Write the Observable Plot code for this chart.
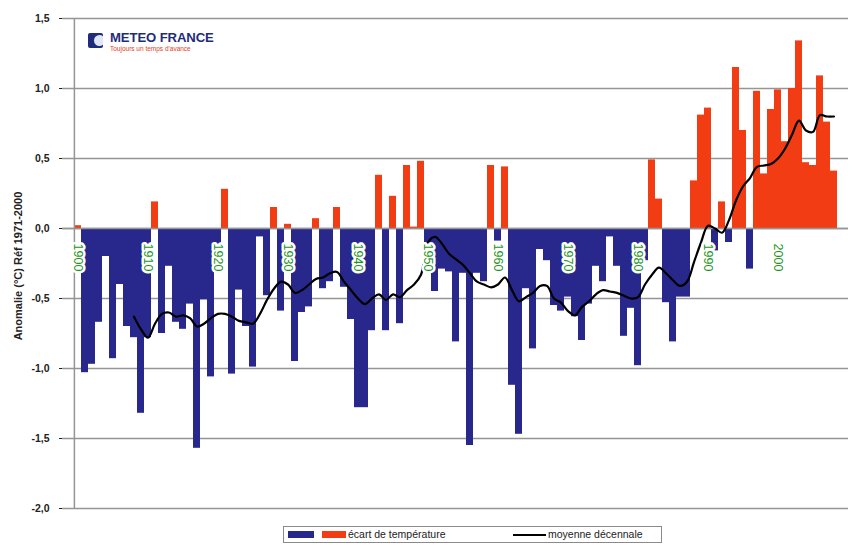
<!DOCTYPE html>
<html><head><meta charset="utf-8">
<script src="https://cdn.jsdelivr.net/npm/d3@7"></script>
<script src="https://cdn.jsdelivr.net/npm/@observablehq/plot@0.6"></script>
<style>
body{margin:0;background:#fff;font-family:"Liberation Sans",Arial,sans-serif}
#wrap{position:relative;width:857px;height:545px;overflow:hidden}
#logo{position:absolute;left:88px;top:32px;display:flex;align-items:flex-start}
#logo .ico{width:15px;height:15px;border-radius:2px;background:#1f2c7c;position:relative;overflow:hidden;margin-top:1px}
#logo .ico:after{content:"";position:absolute;left:6px;top:2px;width:11px;height:11px;border-radius:50%;background:#dfe6f5}
#logo .t1{font-weight:bold;font-size:12.5px;color:#1f2c7c;line-height:13px;margin-left:7px;letter-spacing:-0.1px;transform:scaleX(1.05);transform-origin:left}
#logo .t2{font-size:6.5px;color:#e0401c;margin-left:7px;line-height:7px}
#ytitle{position:absolute;left:18px;top:266px;transform:translate(-50%,-50%) rotate(-90deg);font-weight:bold;font-size:11px;color:#222;white-space:nowrap}
#legend{position:absolute;left:283px;top:526px;width:377px;height:15px;border:1px solid #8a8a8a;background:#fff;font-size:10.5px;color:#222}
#legend .sw{position:absolute;top:4px;height:7px}
#legend .tx{position:absolute;top:1px;white-space:nowrap}
#legend .ln{position:absolute;top:7px;left:229px;width:33px;height:2px;background:#000}
</style></head><body>
<div id="wrap">
<div id="chart"></div>
<div id="ytitle"></div>
<div id="logo"><div class="ico"></div><div><div class="t1">METEO FRANCE</div><div class="t2">Toujours un temps d'avance</div></div></div>
<div id="legend">
<div class="sw" style="left:4px;width:26px;background:#28288c"></div>
<div class="sw" style="left:38px;width:24px;background:#f23c14"></div>
<div class="tx" style="left:64px">écart de température</div>
<div class="ln"></div>
<div class="tx" style="left:264px">moyenne décennale</div>
</div>
</div>
<script>
// Categories
const firstYear = 1900, lastYear = 2008;
const years = d3.range(firstYear, lastYear + 1);
// Annual temperature anomaly (°C, ref 1971-2000), 1900..2008
const anomalies = [
  0.02,-1.03,-0.97,-0.67,-0.20,-0.93,-0.40,-0.70,-0.78,-1.32, // 1900-1909
 -0.78, 0.19,-0.75,-0.27,-0.67,-0.72,-0.54,-1.57,-0.51,-1.06, // 1910-1919
 -0.30, 0.28,-1.04,-0.44,-0.70,-0.99,-0.06,-0.48, 0.15,-0.59, // 1920-1929
  0.03,-0.95,-0.60,-0.56, 0.07,-0.43,-0.38, 0.15,-0.42,-0.65, // 1930-1939
 -1.28,-1.28,-0.73, 0.38,-0.73, 0.23,-0.68, 0.45, 0.01, 0.48, // 1940-1949
 -0.20,-0.45,-0.29,-0.31,-0.81,-0.32,-1.55,-0.32,-0.38, 0.45, // 1950-1959
 -0.09, 0.44,-1.12,-1.47,-0.43,-0.86,-0.15,-0.23,-0.55,-0.59, // 1960-1969
 -0.49,-0.63,-0.80,-0.54,-0.27,-0.38,-0.06,-0.27,-0.77,-0.57, // 1970-1979
 -0.98,-0.23, 0.49, 0.21,-0.53,-0.81,-0.49,-0.49, 0.34, 0.81, // 1980-1989
  0.86,-0.16, 0.19,-0.10, 1.15, 0.70,-0.29, 0.98, 0.39, 0.85, // 1990-1999
  0.99, 0.62, 1.00, 1.34, 0.47, 0.45, 1.09, 0.76, 0.41        // 2000-2008
];
// Decadal moving average, 1908..2008
const avgStart = 1908;
const decadal = [
 -0.63,-0.72,-0.78,-0.68,-0.61,-0.60,-0.63,-0.62,-0.64,-0.70, // 1908-1917
 -0.68,-0.64,-0.61,-0.61,-0.63,-0.66,-0.67,-0.68,-0.61,-0.51, // 1918-1927
 -0.43,-0.38,-0.40,-0.46,-0.44,-0.40,-0.36,-0.35,-0.32,-0.31, // 1928-1937
 -0.38,-0.44,-0.50,-0.54,-0.50,-0.47,-0.51,-0.47,-0.49,-0.44, // 1938-1947
 -0.40,-0.33,-0.10,-0.06,-0.11,-0.18,-0.22,-0.26,-0.32,-0.38, // 1948-1957
 -0.40,-0.42,-0.40,-0.35,-0.44,-0.52,-0.49,-0.46,-0.41,-0.41, // 1958-1967
 -0.50,-0.53,-0.59,-0.62,-0.56,-0.52,-0.47,-0.44,-0.45,-0.46, // 1968-1977
 -0.48,-0.50,-0.49,-0.40,-0.33,-0.28,-0.32,-0.37,-0.41,-0.38, // 1978-1987
 -0.24,-0.10, 0.02, 0.00,-0.03, 0.06, 0.20, 0.30, 0.36, 0.44, // 1988-1997
  0.45, 0.46, 0.50, 0.57, 0.67, 0.77, 0.70, 0.69, 0.81, 0.80, // 1998-2007
  0.80                                                        // 2008
];
// Tick labels
const yTicks = [-2, -1.5, -1, -0.5, 0, 0.5, 1, 1.5];
const labelYears = [1900, 1910, 1920, 1930, 1940, 1950, 1960, 1970, 1980, 1990, 2000];
const yTitle = "Anomalie (°C) Réf 1971-2000";
document.getElementById("ytitle").textContent = yTitle;

const BLUE = "#28288c", RED = "#f23c14", GRID = "#959595";
const bars = years.map((y, i) => ({year: y, value: anomalies[i]}));
const avgData = decadal.map((v, i) => ({year: avgStart + i, value: v}));

const W = 857, H = 518, ML = 62, MR = 9, MT = 18, MB = 10;
const bw = (W - ML - MR) / years.length;

const chart = Plot.plot({
  width: W, height: H,
  marginLeft: ML, marginRight: MR, marginTop: MT, marginBottom: MB,
  style: {fontFamily: "Liberation Sans, Arial, sans-serif", fontSize: "10.5px", fontWeight: "bold", background: "white", color: "#222", overflow: "visible"},
  x: {type: "band", domain: years, padding: 0, axis: null},
  y: {domain: [-2, 1.5], ticks: yTicks, tickFormat: d => d.toFixed(1).replace(".", ","), tickSize: 3, tickPadding: 10, label: null},
  marks: [
    Plot.ruleY(yTicks, {stroke: GRID, strokeWidth: 1.5}),
    Plot.barY(bars, {x: "year", y: "value", fill: d => d.value >= 0 ? RED : BLUE}),
    Plot.ruleY([0], {stroke: GRID, strokeWidth: 1.5}),
    Plot.ruleX([years[0]], {dx: -bw / 2, stroke: GRID, strokeWidth: 1.5}),
    Plot.line(avgData, {x: "year", y: "value", stroke: "#000", strokeWidth: 2.2, curve: "catmull-rom"}),
    Plot.text(labelYears, {x: d => d, y: 0, text: d => String(d), rotate: 90, dy: 29, fill: "#1a961a",
      stroke: "white", strokeWidth: 5, fontSize: 12.5, fontWeight: "normal", textAnchor: "middle"})
  ]
});
document.getElementById("chart").appendChild(chart);
</script>
</body></html>
